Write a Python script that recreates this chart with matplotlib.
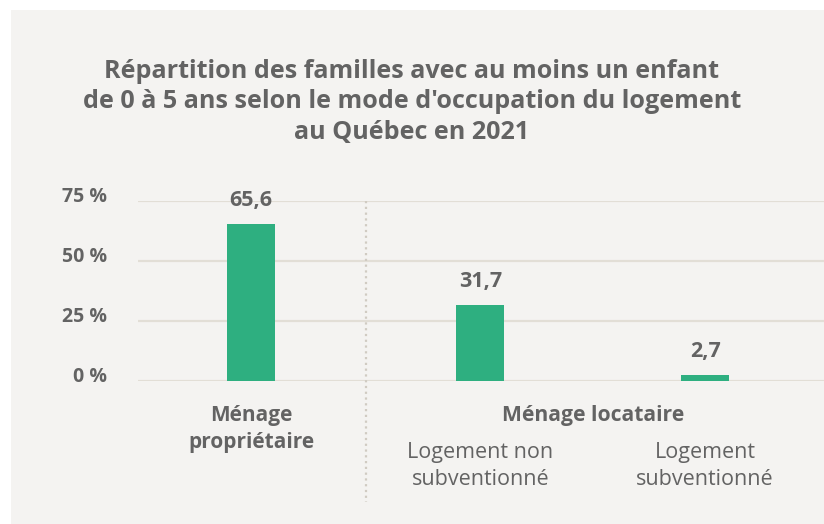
import matplotlib
matplotlib.use("Agg")
import matplotlib.pyplot as plt
from matplotlib.patches import Rectangle
from matplotlib.transforms import ScaledTranslation

# data
groups = ["Ménage\npropriétaire", "Logement non\nsubventionné", "Logement\nsubventionné"]
values = [65.6, 31.7, 2.7]
value_labels = ["65,6", "31,7", "2,7"]
parent_label = "Ménage locataire"
y_ticks = [0, 25, 50, 75]
y_tick_labels = ["0 %", "25 %", "50 %", "75 %"]
title = ("Répartition des familles avec au moins un enfant\n"
         "de 0 à 5 ans selon le mode d'occupation du logement\n"
         "au Québec en 2021")

W, H = 824, 524
PANEL = "#f4f3f1"
GREEN = "#2eaf80"
TEXT = "#636363"
GRID = "#e2ded6"
DIVIDER = "#d0cbc2"

plt.rcParams["font.family"] = ["Open Sans", "DejaVu Sans"]

fig = plt.figure(figsize=(W / 100, H / 100), dpi=100)
fig.patch.set_facecolor("white")
fig.patches.append(Rectangle((11 / W, 0), 1 - 11 / W, 1 - 10 / H,
                             transform=fig.transFigure, facecolor=PANEL,
                             edgecolor="none", zorder=-10))

# axes placed in pixel space: left 138, right 824, zero line y=381, 75 % at y=201
ax_left, ax_right, ax_top, ax_bottom = 138, 824, 201, 381
ax = fig.add_axes([ax_left / W, 1 - ax_bottom / H,
                   (ax_right - ax_left) / W, (ax_bottom - ax_top) / H])
ax.set_facecolor("none")
ax_h = ax_bottom - ax_top

x = [0, 1.01, 2.0]
ax.bar(x, values, width=0.21, color=GREEN, zorder=3)
ax.set_xlim(-0.498, 2.524)
ax.set_ylim(0, 75)

ax.set_yticks(y_ticks)
ax.set_yticklabels(y_tick_labels)
ax.tick_params(axis="y", length=0, pad=22, labelsize=14, labelcolor=TEXT)
shift_up = ScaledTranslation(0, 6 / 100, fig.dpi_scale_trans)
for lab in ax.get_yticklabels():
    lab.set_fontweight("bold")
    lab.set_transform(lab.get_transform() + shift_up)
ax.set_xticks([])
ax.grid(axis="y", color=GRID, linewidth=1.6, zorder=1)
for s in ax.spines.values():
    s.set_visible(False)

for xi, v, lab in zip(x, values, value_labels):
    ax.annotate(lab, (xi, v), xytext=(0, 9), textcoords="offset points",
                ha="center", va="bottom", fontsize=15.5, fontweight="bold",
                color=TEXT)

# divider between owner and renter groups
div_x = (x[0] + x[1]) / 2
ax.plot([div_x, div_x], [75, -(502 - ax_bottom) / ax_h * 75], color=DIVIDER,
        linewidth=1.6, linestyle=(0, (1, 1.6)), clip_on=False, zorder=2)


def px_to_axes(py):
    return (ax_bottom - py) / ax_h


xt = ax.get_xaxis_transform()
ax.text(x[0], px_to_axes(429), groups[0], transform=xt, ha="center",
        va="center", fontsize=15, fontweight="bold", color=TEXT,
        linespacing=1.42)
ax.text((x[1] + x[2]) / 2, px_to_axes(415), parent_label, transform=xt,
        ha="center", va="center", fontsize=15.2, fontweight="bold", color=TEXT)
for xi, g in zip(x[1:], groups[1:]):
    ax.text(xi, px_to_axes(466), g, transform=xt, ha="center", va="center",
            fontsize=15.5, color=TEXT, linespacing=1.36)

fig.text(0.5, 1 - 102 / H, title, ha="center", va="center", fontsize=18.1,
         fontweight="bold", color=TEXT, linespacing=1.27)

fig.savefig("out.png", dpi=100, facecolor="white")
